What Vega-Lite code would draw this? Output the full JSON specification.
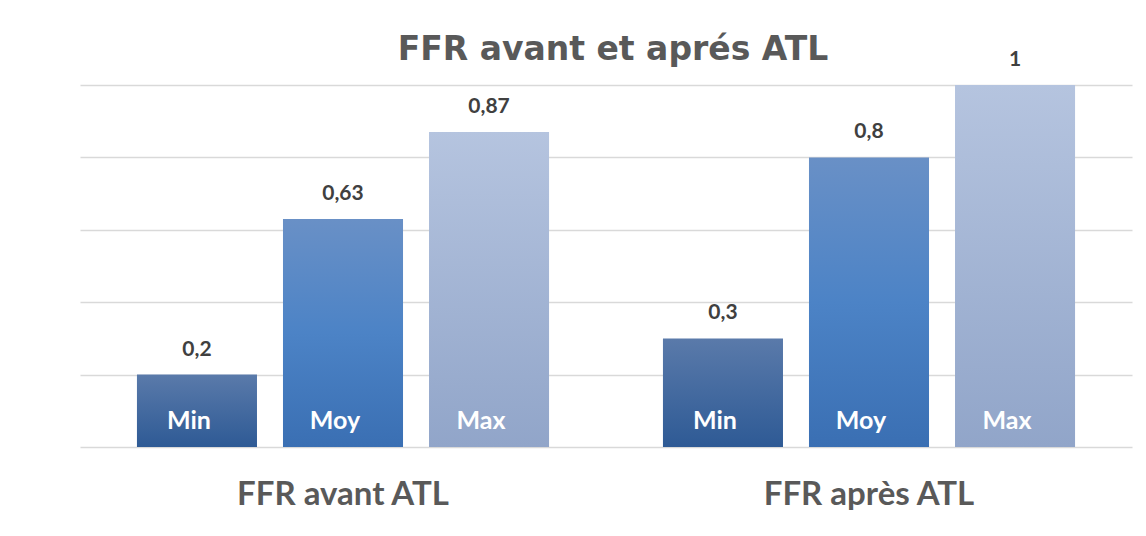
{
  "$schema": "https://vega.github.io/schema/vega-lite/v6.json",
  "width": 1066,
  "height": 362,
  "autosize": {"type": "none"},
  "padding": {"left": 80, "top": 85, "right": 0, "bottom": 89},
  "background": "white",
  "title": {
    "text": "FFR avant et aprés ATL",
    "anchor": "middle",
    "font": "DejaVu Sans",
    "fontSize": 33,
    "fontWeight": "bold",
    "color": "#595959",
    "offset": 22,
    "dy": 40
  },
  "config": {"view": {"stroke": null}},
  "data": {
    "values": [
      {"group": "FFR avant ATL", "stat": "Min", "value": 0.2, "label": "0,2"},
      {"group": "FFR avant ATL", "stat": "Moy", "value": 0.63, "label": "0,63"},
      {"group": "FFR avant ATL", "stat": "Max", "value": 0.87, "label": "0,87"},
      {"group": "FFR après ATL", "stat": "Min", "value": 0.3, "label": "0,3"},
      {"group": "FFR après ATL", "stat": "Moy", "value": 0.8, "label": "0,8"},
      {"group": "FFR après ATL", "stat": "Max", "value": 1.0, "label": "1"}
    ]
  },
  "encoding": {
    "x": {
      "field": "group",
      "type": "nominal",
      "sort": ["FFR avant ATL", "FFR après ATL"],
      "scale": {"range": [0, 1052], "paddingInner": 0, "paddingOuter": 0},
      "axis": {
        "title": null,
        "domain": false,
        "ticks": false,
        "labelAngle": 0,
        "labelLimit": 0,
        "labelFont": "Lato",
        "labelFontSize": 33,
        "labelFontWeight": "bold",
        "labelColor": "#595959",
        "labelPadding": 31
      }
    },
    "xOffset": {
      "field": "stat",
      "type": "nominal",
      "sort": ["Min", "Moy", "Max"],
      "scale": {"domain": ["Min", "Moy", "Max"], "paddingInner": 0.178, "paddingOuter": 0.39}
    },
    "y": {
      "field": "value",
      "type": "quantitative",
      "scale": {"domain": [0, 1]},
      "axis": {
        "values": [0, 0.2, 0.4, 0.6, 0.8, 1],
        "labels": false,
        "ticks": false,
        "domain": false,
        "title": null,
        "grid": true,
        "gridColor": "#d9d9d9",
        "gridWidth": 1.5
      }
    }
  },
  "layer": [
    {
      "transform": [{"filter": "datum.stat === 'Min'"}],
      "mark": {
        "type": "bar",
        "color": {"gradient": "linear", "x1": 0, "y1": 0, "x2": 0, "y2": 1,
          "stops": [{"offset": 0, "color": "#5a7aaa"}, {"offset": 1, "color": "#2e5a95"}]}
      }
    },
    {
      "transform": [{"filter": "datum.stat === 'Moy'"}],
      "mark": {
        "type": "bar",
        "color": {"gradient": "linear", "x1": 0, "y1": 0, "x2": 0, "y2": 1,
          "stops": [{"offset": 0, "color": "#6990c6"}, {"offset": 0.5, "color": "#4c83c6"}, {"offset": 1, "color": "#3a6fb3"}]}
      }
    },
    {
      "transform": [{"filter": "datum.stat === 'Max'"}],
      "mark": {
        "type": "bar",
        "color": {"gradient": "linear", "x1": 0, "y1": 0, "x2": 0, "y2": 1,
          "stops": [{"offset": 0, "color": "#b5c4df"}, {"offset": 1, "color": "#91a5c9"}]}
      }
    },
    {
      "mark": {
        "type": "text",
        "baseline": "middle",
        "dy": -25,
        "font": "Lato",
        "fontSize": 21,
        "fontWeight": "bold",
        "color": "#404040"
      },
      "encoding": {"text": {"field": "label"}}
    },
    {
      "mark": {
        "type": "text",
        "baseline": "middle",
        "dy": -26,
        "dx": -8,
        "font": "Lato",
        "fontSize": 25,
        "fontWeight": "bold",
        "color": "white"
      },
      "encoding": {"y": {"datum": 0}, "text": {"field": "stat"}}
    }
  ]
}
